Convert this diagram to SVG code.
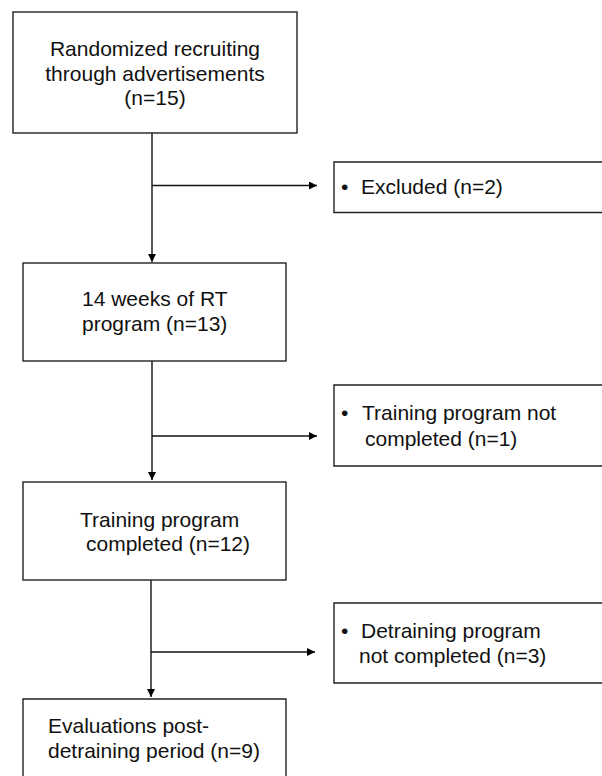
<svg xmlns="http://www.w3.org/2000/svg" width="602" height="776" viewBox="0 0 602 776">
<defs>
<marker id="ah" markerWidth="8" markerHeight="8" refX="8" refY="4" orient="auto" markerUnits="userSpaceOnUse">
<path d="M0,0 L8,4 L0,8 Z" fill="#000"/>
</marker>
<style>
.box{fill:#fff;stroke:#222;stroke-width:1.4}
.t{font-family:"Liberation Sans",Arial,sans-serif;font-size:21px;fill:#111}
.c{stroke:#111;stroke-width:1.4;fill:none}
</style>
</defs>
<rect width="602" height="776" fill="#fff"/>
<g id="connectors">
<path class="c" d="M152,133 V262" marker-end="url(#ah)"/>
<path class="c" d="M152,185.5 H317" marker-end="url(#ah)"/>
<path class="c" d="M152,361 V480" marker-end="url(#ah)"/>
<path class="c" d="M152,436 H317" marker-end="url(#ah)"/>
<path class="c" d="M151,580 V697" marker-end="url(#ah)"/>
<path class="c" d="M151,652 H315" marker-end="url(#ah)"/>
</g>
<g id="n1">
<rect class="box" x="13" y="12" width="284" height="121"/>
<text class="t" x="155" y="56" text-anchor="middle">Randomized recruiting</text>
<text class="t" x="155" y="80.5" text-anchor="middle">through advertisements</text>
<text class="t" x="155" y="105" text-anchor="middle">(n=15)</text>
</g>
<g id="n_excl">
<path class="box" d="M610,162 H334 V212.5 H610"/>
<text class="t" x="341" y="194">•</text>
<text class="t" x="361" y="194">Excluded (n=2)</text>
</g>
<g id="n2">
<rect class="box" x="23" y="263" width="263" height="98"/>
<text class="t" x="82" y="306">14 weeks of RT</text>
<text class="t" x="82" y="331">program (n=13)</text>
</g>
<g id="n_train">
<path class="box" d="M610,385 H334 V466 H610"/>
<text class="t" x="341" y="420">•</text>
<text class="t" x="362" y="420">Training program not</text>
<text class="t" x="365" y="446">completed (n=1)</text>
</g>
<g id="n3">
<rect class="box" x="23" y="482" width="263" height="98"/>
<text class="t" x="80" y="527">Training program</text>
<text class="t" x="86" y="550.5">completed (n=12)</text>
</g>
<g id="n_detr">
<path class="box" d="M610,603 H334 V683 H610"/>
<text class="t" x="341" y="638">•</text>
<text class="t" x="361" y="638">Detraining program</text>
<text class="t" x="359" y="663">not completed (n=3)</text>
</g>
<g id="n4">
<path class="box" d="M23,790 V699 H286 V790"/>
<text class="t" x="48" y="733">Evaluations post-</text>
<text class="t" x="48" y="758">detraining period (n=9)</text>
</g>
</svg>
